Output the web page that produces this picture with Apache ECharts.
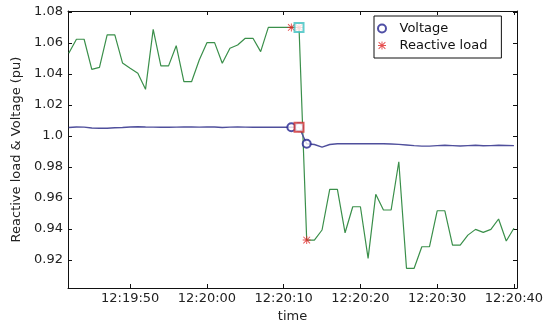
<!DOCTYPE html>
<html><head><meta charset="utf-8">
<script src="https://cdn.jsdelivr.net/npm/echarts@6/dist/echarts.min.js"></script>
<style>html,body{margin:0;padding:0;background:#fff}#c{width:550px;height:333px}</style>
</head><body><div id="c"></div>
<script>
// seconds relative to 12:20:00
const times = [-18,-17,-16,-15,-14,-13,-12,-11,-10,-9,-8,-7,-6,-5,-4,-3,-2,-1,0,1,2,3,4,5,6,7,8,9,10,11,12,13,14,15,16,17,18,19,20,21,22,23,24,25,26,27,28,29,30,31,32,33,34,35,36,37,38,39,40];
const reactiveLoad = [1.0534,1.0624,1.0624,1.0430,1.0443,1.0652,1.0652,1.0471,1.0437,1.0404,1.0301,1.0688,1.0452,1.0452,1.0582,1.0350,1.0350,1.0490,1.0602,1.0602,1.0469,1.0566,1.0587,1.0630,1.0630,1.0544,1.0700,1.0700,1.0700,1.0700,1.0700,0.9329,0.9329,0.9394,0.9656,0.9656,0.9376,0.9544,0.9544,0.9211,0.9624,0.9523,0.9523,0.9834,0.9147,0.9147,0.9286,0.9286,0.9518,0.9518,0.9297,0.9297,0.9361,0.9398,0.9379,0.9398,0.9465,0.9323,0.9405];
const voltage = [1.0055,1.0058,1.0057,1.0052,1.0050,1.0050,1.0053,1.0055,1.0058,1.0060,1.0058,1.0057,1.0056,1.0056,1.0057,1.0058,1.0058,1.0057,1.0058,1.0058,1.0055,1.0057,1.0058,1.0057,1.0056,1.0056,1.0056,1.0056,1.0056,1.0056,1.0056,0.9950,0.9945,0.9928,0.9945,0.9950,0.9950,0.9950,0.9950,0.9950,0.9950,0.9950,0.9948,0.9946,0.9942,0.9938,0.9935,0.9935,0.9938,0.9940,0.9938,0.9936,0.9938,0.9940,0.9937,0.9938,0.9940,0.9939,0.9938];
const markerTimes = [11,12,13];
const squareTime = 12;
const xTickSeconds = [-10,0,10,20,30,40];
const xTickLabels = ['12:19:50','12:20:00','12:20:10','12:20:20','12:20:30','12:20:40'];
const yTicks = [0.92,0.94,0.96,0.98,1.00,1.02,1.04,1.06,1.08];
const yTickLabels = ['0.92','0.94','0.96','0.98','1.0','1.02','1.04','1.06','1.08'];

const FONT = 'DejaVu Sans';
const pair = (arr) => times.map((t,i)=>[t, arr[i]]);
const pick = (arr, ts) => ts.map(t => [t, arr[times.indexOf(t)]]);
const asterisk = 'path://M4.4 0L5.6 0L5.6 10L4.4 10ZM0 4.4L10 4.4L10 5.6L0 5.6ZM1.2 0.4L9.6 8.8L8.8 9.6L0.4 1.2ZM8.8 0.4L9.6 1.2L1.2 9.6L0.4 8.8Z';
const xFmt = v => { const i = xTickSeconds.findIndex(s => Math.abs(s - v) < 1e-6); return i >= 0 ? xTickLabels[i] : ''; };
const yFmt = v => { const i = yTicks.findIndex(s => Math.abs(s - v) < 1e-6); return i >= 0 ? yTickLabels[i] : ''; };
const XMIN = -18.1, XMAX = 40.4, YMIN = 0.902, YMAX = 1.0806;
const axLine = {show:true, onZero:false, lineStyle:{color:'#111', width:1}};
const tick = (vals) => ({show:true, inside:true, length:4, customValues: vals, lineStyle:{color:'#111'}});

const chart = echarts.init(document.getElementById('c'), null, {renderer:'canvas'});
chart.setOption({
  animation:false,
  backgroundColor:'#fff',
  grid:{left:68, right:33, top:11, bottom:45, containLabel:false},
  xAxis:[
    {type:'value', min:XMIN, max:XMAX, position:'bottom', axisLine:axLine, axisTick:tick(xTickSeconds),
     axisLabel:{customValues:xTickSeconds, formatter:xFmt, fontFamily:FONT, fontSize:13, color:'#222', margin:4},
     splitLine:{show:false}, name:'time', nameLocation:'middle', nameGap:18,
     nameTextStyle:{fontFamily:FONT, fontSize:13, color:'#222'}},
    {type:'value', min:XMIN, max:XMAX, position:'top', axisLine:axLine, axisTick:tick(xTickSeconds),
     axisLabel:{show:false}, splitLine:{show:false}}
  ],
  yAxis:[
    {type:'value', min:YMIN, max:YMAX, position:'left', axisLine:axLine, axisTick:tick(yTicks),
     axisLabel:{customValues:yTicks, formatter:yFmt, fontFamily:FONT, fontSize:13, color:'#222', margin:5},
     splitLine:{show:false}, name:'Reactive load & Voltage (pu)', nameLocation:'middle', nameGap:42,
     nameTextStyle:{fontFamily:FONT, fontSize:13, color:'#222'}},
    {type:'value', min:YMIN, max:YMAX, position:'right', axisLine:axLine, axisTick:tick(yTicks),
     axisLabel:{show:false}, splitLine:{show:false}}
  ],
  legend:{
    orient:'vertical', left:374, top:16, data:[
      {name:'Voltage', icon:'emptyCircle'},
      {name:'Reactive load', icon:asterisk}
    ],
    itemWidth:25, itemHeight:8, itemGap:4,
    padding:[6,14,6,3], borderColor:'#111', borderWidth:1, backgroundColor:'#fff',
    textStyle:{fontFamily:FONT, fontSize:13, color:'#111'}
  },
  series:[
    {name:'reactiveLine', type:'line', data:pair(reactiveLoad), showSymbol:false, symbol:'none',
     lineStyle:{color:'#3a8f4a', width:1.2}, itemStyle:{color:'#3a8f4a'}, z:2},
    {name:'voltageLine', type:'line', data:pair(voltage), showSymbol:false, symbol:'none',
     lineStyle:{color:'#4f4f9c', width:1.4}, itemStyle:{color:'#4f4f9c'}, z:2},
    {name:'Voltage', type:'scatter', data:pick(voltage, markerTimes), symbol:'emptyCircle', symbolSize:8,
     itemStyle:{color:'#23238f', borderWidth:1}, z:4},
    {name:'Reactive load', type:'scatter', data:pick(reactiveLoad, markerTimes), symbol:asterisk, symbolSize:8,
     itemStyle:{color:'#e02525'}, z:4},
    {name:'voltageSquare', type:'scatter', data:pick(voltage, [squareTime]), symbol:'emptyRect', symbolSize:9,
     itemStyle:{color:'#d03030', borderWidth:1.2}, z:5},
    {name:'loadSquare', type:'scatter', data:pick(reactiveLoad, [squareTime]), symbol:'emptyRect', symbolSize:9,
     itemStyle:{color:'#3cc0c0', borderWidth:1.2}, z:5}
  ]
});
</script></body></html>
